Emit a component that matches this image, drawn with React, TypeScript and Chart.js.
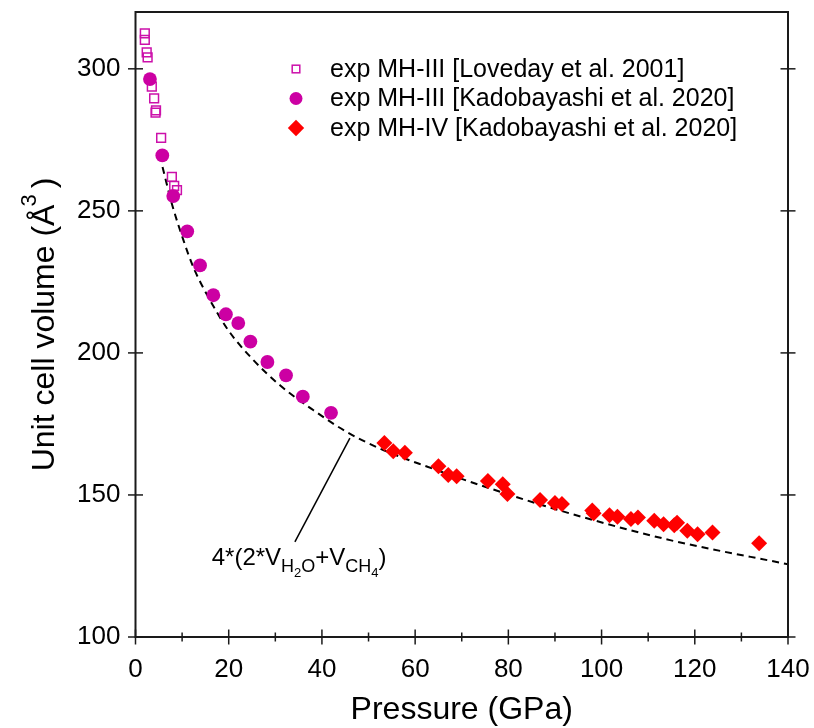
import React, { useEffect, useRef } from 'react';
import { Chart, registerables } from 'chart.js';

Chart.register(...registerables);

// ---------- data ----------
const lovedayP = [2.0, 2.0, 2.4, 2.6, 3.5, 4.0, 4.3, 4.4, 5.5, 7.8, 8.3, 8.9];
const lovedayV = [312.5, 310.2, 305.8, 304.0, 293.7, 289.6, 284.6, 285.4, 275.7, 262.0, 258.8, 257.3];

const kadoIIIP = [3.1, 5.75, 8.1, 11.1, 13.85, 16.7, 19.4, 22.05, 24.65, 28.3, 32.3, 35.9, 41.95];
const kadoIIIV = [296.4, 269.5, 255.2, 242.8, 230.8, 220.3, 213.6, 210.5, 204.0, 196.8, 192.1, 184.6, 178.9];

const kadoIVP = [53.4, 55.3, 57.8, 65.0, 67.1, 68.9, 75.6, 78.8, 79.8, 86.8, 90.0, 91.5, 98.0, 98.3, 101.7, 103.4, 106.3, 107.8, 111.3, 113.3, 115.6, 116.2, 118.4, 120.6, 123.8, 133.8];
const kadoIVV = [168.3, 165.4, 164.9, 160.1, 157.0, 156.6, 154.9, 153.8, 150.3, 148.2, 147.2, 146.8, 144.5, 143.6, 142.9, 142.3, 141.5, 142.1, 140.9, 139.7, 139.3, 140.2, 137.4, 136.2, 136.8, 133.0];

const sumP = [5.8, 7.8, 10.3, 12.4, 15.6, 19.9, 25, 31, 38.2, 45.3, 52.5, 62.5, 76.8, 93.2, 114.7, 140];
const sumV = [265.4, 252.5, 239.6, 230.2, 219.7, 208, 198, 188.6, 179.8, 172.2, 166.3, 160.0, 151.9, 143.5, 134.1, 125.6];

const xTicks = [0, 20, 40, 60, 80, 100, 120, 140];
const xMinorTicks = [10, 30, 50, 70, 90, 110, 130];
const yTicks = [100, 150, 200, 250, 300];

const legendLabels = [
  'exp MH-III [Loveday et al. 2001]',
  'exp MH-III [Kadobayashi et al. 2020]',
  'exp MH-IV [Kadobayashi et al. 2020]',
];

// annotation (data coordinates)
const annotLineFrom = { x: 34.2, y: 133.5 };
const annotLineTo = { x: 46.0, y: 170.0 };
const annotTextAt = { x: 16.35, y: 125.3 };

// ---------- styles ----------
const FONT = "'Liberation Sans', Arial, Helvetica, sans-serif";
const MAGENTA = '#CC00A3';
const SQUARE_COL = '#CC10AA';
const RED = '#FF0000';

const toPts = (xs: number[], ys: number[]) => xs.map((x, i) => ({ x, y: ys[i] }));

const decorPlugin = {
  id: 'decor',
  afterDraw(chart: any) {
    const { ctx, chartArea, scales } = chart;
    const { left, right, top, bottom } = chartArea;
    const xs = scales.x;
    const ys = scales.y;
    ctx.save();
    // frame
    ctx.strokeStyle = '#1a1a1a';
    ctx.lineWidth = 2;
    ctx.strokeRect(left, top, right - left, bottom - top);
    ctx.lineWidth = 1.5;
    const seg = (x1: number, y1: number, x2: number, y2: number) => {
      ctx.beginPath();
      ctx.moveTo(x1, y1);
      ctx.lineTo(x2, y2);
      ctx.stroke();
    };
    xTicks.forEach((t) => {
      const px = xs.getPixelForValue(t);
      seg(px, bottom - 7.5, px, bottom + 7.5);
    });
    xMinorTicks.forEach((t) => {
      const px = xs.getPixelForValue(t);
      seg(px, bottom - 4.5, px, bottom + 4.5);
    });
    yTicks.forEach((t) => {
      const py = ys.getPixelForValue(t);
      seg(left - 7.5, py, left + 7.5, py);
      seg(right - 7.5, py, right + 7.5, py);
    });

    // axis titles
    ctx.fillStyle = '#000';
    ctx.textBaseline = 'alphabetic';
    ctx.font = `32px ${FONT}`;
    ctx.textAlign = 'center';
    ctx.fillText('Pressure (GPa)', (left + right) / 2, 719);

    // y title rotated with superscript
    const partA = 'Unit cell volume (Å';
    const partB = '3';
    const partC = ')';
    ctx.font = `32px ${FONT}`;
    const wA = ctx.measureText(partA).width;
    const wC = ctx.measureText(partC).width;
    ctx.font = `22px ${FONT}`;
    const wB = ctx.measureText(partB).width;
    const total = wA + wB + 4 + wC;
    ctx.save();
    ctx.translate(54, (top + bottom) / 2);
    ctx.rotate(-Math.PI / 2);
    ctx.textAlign = 'left';
    let cx = -total / 2;
    ctx.font = `32px ${FONT}`;
    ctx.fillText(partA, cx, 0);
    cx += wA;
    ctx.font = `22px ${FONT}`;
    ctx.fillText(partB, cx - 2, -18);
    cx += wB + 4;
    ctx.font = `32px ${FONT}`;
    ctx.fillText(partC, cx, 0);
    ctx.restore();

    // legend
    const lx = 296;
    const tx = 330;
    const rows = [69, 98.5, 128];
    ctx.font = `25px ${FONT}`;
    ctx.textAlign = 'left';
    ctx.textBaseline = 'middle';
    legendLabels.forEach((lab, i) => {
      const ry = rows[i];
      if (i === 0) {
        ctx.strokeStyle = SQUARE_COL;
        ctx.lineWidth = 1.5;
        ctx.strokeRect(lx - 3.8, ry - 3.8, 7.6, 7.6);
      } else if (i === 1) {
        ctx.fillStyle = MAGENTA;
        ctx.beginPath();
        ctx.arc(lx, ry, 6.5, 0, Math.PI * 2);
        ctx.fill();
      } else {
        ctx.fillStyle = RED;
        ctx.beginPath();
        ctx.moveTo(lx, ry - 8.2);
        ctx.lineTo(lx + 8.2, ry);
        ctx.lineTo(lx, ry + 8.2);
        ctx.lineTo(lx - 8.2, ry);
        ctx.closePath();
        ctx.fill();
      }
      ctx.fillStyle = '#000';
      ctx.fillText(lab, tx, ry + 1);
    });

    // annotation line
    ctx.strokeStyle = '#000';
    ctx.lineWidth = 1.5;
    seg(
      xs.getPixelForValue(annotLineFrom.x),
      ys.getPixelForValue(annotLineFrom.y),
      xs.getPixelForValue(annotLineTo.x),
      ys.getPixelForValue(annotLineTo.y)
    );

    // annotation text 4*(2*V_{H2O}+V_{CH4})
    const ax = xs.getPixelForValue(annotTextAt.x);
    const ay = ys.getPixelForValue(annotTextAt.y);
    ctx.textBaseline = 'alphabetic';
    ctx.textAlign = 'left';
    ctx.fillStyle = '#000';
    const pieces: [string, number, number][] = [
      ['4*(2*V', 24, 0],
      ['H', 18, 6.5],
      ['2', 13, 11.5],
      ['O', 18, 6.5],
      ['+V', 24, 0],
      ['CH', 18, 6.5],
      ['4', 13, 11.5],
      [')', 24, 0],
    ];
    let px = ax;
    pieces.forEach(([s, size, dy]) => {
      ctx.font = `${size}px ${FONT}`;
      ctx.fillText(s, px, ay + dy);
      px += ctx.measureText(s).width;
    });

    ctx.restore();
  },
};

export default function App() {
  const ref = useRef<HTMLCanvasElement>(null);
  useEffect(() => {
    const canvas = ref.current;
    if (!canvas) return;
    const chart = new Chart(canvas, {
      type: 'scatter',
      data: {
        datasets: [
          {
            label: legendLabels[2],
            data: toPts(kadoIVP, kadoIVV),
            pointStyle: 'rectRot',
            pointRadius: 8,
            pointBackgroundColor: RED,
            pointBorderColor: RED,
            pointBorderWidth: 0,
            showLine: false,
          },
          {
            label: legendLabels[1],
            data: toPts(kadoIIIP, kadoIIIV),
            pointStyle: 'circle',
            pointRadius: 6.9,
            pointBackgroundColor: MAGENTA,
            pointBorderColor: MAGENTA,
            pointBorderWidth: 0,
            showLine: false,
          },
          {
            label: legendLabels[0],
            data: toPts(lovedayP, lovedayV),
            pointStyle: 'rect',
            pointRadius: 6.2,
            pointBackgroundColor: 'rgba(0,0,0,0)',
            pointBorderColor: SQUARE_COL,
            pointBorderWidth: 1.5,
            showLine: false,
          },
          {
            label: '4*(2*V_H2O+V_CH4)',
            data: toPts(sumP, sumV),
            showLine: true,
            pointRadius: 0,
            borderColor: '#000',
            borderWidth: 2,
            borderDash: [7, 5],
            cubicInterpolationMode: 'monotone',
            fill: false,
          } as any,
        ],
      },
      options: {
        animation: false,
        responsive: false,
        maintainAspectRatio: false,
        layout: { padding: { left: 0, top: 12, right: 26, bottom: 0 } },
        plugins: {
          legend: { display: false },
          tooltip: { enabled: false },
        },
        scales: {
          x: {
            type: 'linear',
            min: 0,
            max: 140,
            grid: { display: false, drawTicks: false },
            border: { display: false },
            afterBuildTicks: (s: any) => {
              s.ticks = xTicks.map((v) => ({ value: v }));
            },
            afterFit: (s: any) => {
              s.height = 91;
              s.paddingLeft = 0;
              s.paddingRight = 0;
              s.paddingTop = 0;
              s.paddingBottom = 0;
            },
            ticks: {
              padding: 17,
              color: '#000',
              font: { family: FONT, size: 26 },
              maxRotation: 0,
              autoSkip: false,
            },
          },
          y: {
            type: 'linear',
            min: 100,
            max: 320,
            grid: { display: false, drawTicks: false },
            border: { display: false },
            afterBuildTicks: (s: any) => {
              s.ticks = yTicks.map((v) => ({ value: v }));
            },
            afterFit: (s: any) => {
              s.width = 135.5;
              s.paddingLeft = 0;
              s.paddingRight = 0;
              s.paddingTop = 0;
              s.paddingBottom = 0;
            },
            ticks: {
              padding: 15,
              color: '#000',
              font: { family: FONT, size: 26 },
              autoSkip: false,
            },
          },
        },
      },
      plugins: [decorPlugin],
    });
    return () => chart.destroy();
  }, []);

  return (
    <div style={{ position: 'fixed', left: 0, top: 0, width: 814, height: 728, background: '#fff' }}>
      <canvas ref={ref} width={814} height={728} style={{ width: 814, height: 728, display: 'block' }} />
    </div>
  );
}
